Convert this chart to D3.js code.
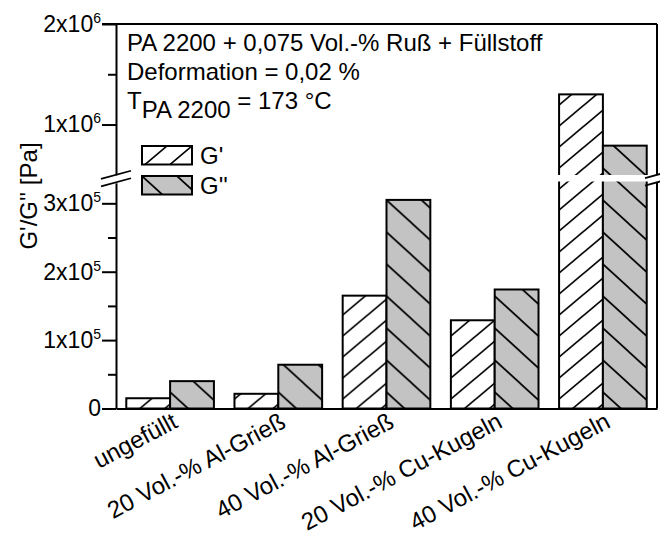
<!DOCTYPE html>
<html>
<head>
<meta charset="utf-8">
<script src="https://cdn.jsdelivr.net/npm/d3@7"></script>
<style>
  body { margin: 0; background: #fff; }
  svg { display: block; }
  text { font-family: "Liberation Sans", Arial, sans-serif; fill: #000; }
</style>
</head>
<body>
<div id="chart"></div>
<script>
// Data
const categories = ["ungefüllt", "20 Vol.-% Al-Grieß", "40 Vol.-% Al-Grieß", "20 Vol.-% Cu-Kugeln", "40 Vol.-% Cu-Kugeln"];
const seriesNames = ["G'", "G''"];
const gStorage = [1.5e4, 2.15e4, 1.65e5, 1.29e5, 1.3e6];
const gLoss = [4.0e4, 6.4e4, 3.05e5, 1.74e5, 7.9e5];

// broken y axis: lower and upper segment
const lowTicks = [0, 1e5, 2e5, 3e5];
const lowTickLabels = ["0", "1x10^5", "2x10^5", "3x10^5"];
const lowMinor = [0.5e5, 1.5e5, 2.5e5];
const highTicks = [1e6, 2e6];
const highTickLabels = ["1x10^6", "2x10^6"];
const highMinor = [1.5e6];

const annotation = ["PA 2200 + 0,075 Vol.-% Ruß + Füllstoff", "Deformation = 0,02 %"];

const width = 660, height = 539;
const plotLeft = 116, plotRight = 657, plotBottom = 408.5, plotTop = 24;

const svg = d3.select("#chart").append("svg")
    .attr("width", width)
    .attr("height", height);

// hatch patterns
const defs = svg.append("defs");
function hatch(id, w, h, fill, dir) {
    const p = defs.append("pattern")
        .attr("id", id)
        .attr("patternUnits", "userSpaceOnUse")
        .attr("width", w).attr("height", h);
    p.append("rect").attr("width", w).attr("height", h).attr("fill", fill);
    let d;
    if (dir === "up") {
        d = `M0,${h}L${w},0 M${-w/4},${h/4}L${w/4},${-h/4} M${3*w/4},${5*h/4}L${5*w/4},${3*h/4}`;
    } else {
        d = `M0,0L${w},${h} M${-w/4},${3*h/4}L${w/4},${5*h/4} M${3*w/4},${-h/4}L${5*w/4},${h/4}`;
    }
    p.append("path").attr("d", d).attr("stroke", "#000").attr("stroke-width", 1.7).attr("fill", "none");
}
hatch("hatchG1", 25, 21, "#fff", "up");
hatch("hatchG2", 35, 32, "#c3c3c3", "down");
const fills = ["url(#hatchG1)", "url(#hatchG2)"];

// scales
const x = d3.scaleBand()
    .domain(categories)
    .range([plotLeft, plotRight])
    .paddingInner(0.19)
    .paddingOuter(0.095);
const xs = d3.scaleBand()
    .domain(seriesNames)
    .range([0, x.bandwidth()]);

const yLow = d3.scaleLinear().domain([0, 3.3e5]).range([plotBottom, 182.8]);
const yHigh = d3.scaleLinear().domain([0.5e6, 2e6]).range([174.8, plotTop]);
const y = v => v <= 3.3e5 ? yLow(v) : yHigh(v);

// bars
const rows = categories.map((c, i) => ({cat: c, vals: [gStorage[i], gLoss[i]]}));
const groups = svg.selectAll(".grp")
    .data(rows)
    .enter()
    .append("g")
    .attr("class", "grp")
    .attr("transform", d => `translate(${x(d.cat)},0)`);

groups.selectAll("rect")
    .data(d => d.vals.map((v, j) => ({name: seriesNames[j], value: v, j: j})))
    .enter()
    .append("rect")
    .attr("x", d => xs(d.name))
    .attr("y", d => y(d.value))
    .attr("width", xs.bandwidth())
    .attr("height", d => plotBottom - y(d.value))
    .attr("fill", d => fills[d.j])
    .attr("stroke", "#000")
    .attr("stroke-width", 2);

// white band where the axis is broken
svg.append("rect")
    .attr("x", x(categories[4]) - 6)
    .attr("y", 175)
    .attr("width", plotRight - x(categories[4]) + 6)
    .attr("height", 6.5)
    .attr("fill", "#fff");

// y axes
function styleTicks(g) {
    g.selectAll("line").attr("stroke", "#000").attr("stroke-width", 2);
    g.select(".domain").attr("stroke", "#000").attr("stroke-width", 2);
}
function sciLabels(g, labels) {
    g.selectAll(".tick text").each(function(d, i) {
        const t = d3.select(this).text("");
        const parts = labels[i].split("^");
        t.append("tspan").text(parts[0]);
        if (parts[1]) {
            t.append("tspan").attr("dy", -9).attr("font-size", 14).text(parts[1]);
        }
    });
}

const axLow = svg.append("g")
    .attr("transform", `translate(${plotLeft},0)`)
    .call(d3.axisLeft(yLow).tickValues(lowTicks).tickSize(14).tickSizeOuter(0).tickPadding(1));
axLow.attr("font-size", 23).attr("font-family", null);
sciLabels(axLow, lowTickLabels);
styleTicks(axLow);

const axHigh = svg.append("g")
    .attr("transform", `translate(${plotLeft},0)`)
    .call(d3.axisLeft(yHigh).tickValues(highTicks).tickSize(14).tickSizeOuter(0).tickPadding(1));
axHigh.attr("font-size", 23).attr("font-family", null);
sciLabels(axHigh, highTickLabels);
styleTicks(axHigh);

// minor ticks
[[yLow, lowMinor], [yHigh, highMinor]].forEach(([sc, vals]) => {
    const g = svg.append("g")
        .attr("transform", `translate(${plotLeft},0)`)
        .call(d3.axisLeft(sc).tickValues(vals).tickSize(8).tickFormat(""));
    g.select(".domain").remove();
    styleTicks(g);
});

// x axis
const axX = svg.append("g")
    .attr("transform", `translate(0,${plotBottom})`)
    .call(d3.axisBottom(x).tickSize(0).tickSizeOuter(0).tickFormat(""));
styleTicks(axX);

svg.selectAll(".xlab")
    .data(categories)
    .enter()
    .append("text")
    .attr("class", "xlab")
    .attr("text-anchor", "end")
    .attr("font-size", 24)
    .attr("transform", d => `translate(${x(d) + x.bandwidth() / 2 + 9},${plotBottom + 18}) rotate(-28)`)
    .text(d => d);

// frame: top and right
svg.append("line")
    .attr("x1", plotLeft - 14).attr("x2", plotRight)
    .attr("y1", plotTop).attr("y2", plotTop)
    .attr("stroke", "#000").attr("stroke-width", 2);
svg.append("line")
    .attr("x1", plotRight).attr("x2", plotRight)
    .attr("y1", plotTop).attr("y2", 174.8)
    .attr("stroke", "#000").attr("stroke-width", 2);
svg.append("line")
    .attr("x1", plotRight).attr("x2", plotRight)
    .attr("y1", 182.8).attr("y2", plotBottom)
    .attr("stroke", "#000").attr("stroke-width", 2);

// break marks
function breakMarks(cx, half) {
    [174.8, 182.3].forEach(yc => {
        svg.append("line")
            .attr("x1", cx - half).attr("y1", yc + half * 0.27)
            .attr("x2", cx + half).attr("y2", yc - half * 0.27)
            .attr("stroke", "#000").attr("stroke-width", 1.8);
    });
}
breakMarks(plotLeft, 15);
breakMarks(plotRight, 12);

// y label
svg.append("text")
    .attr("transform", "translate(37,196) rotate(-90)")
    .attr("text-anchor", "middle")
    .attr("font-size", 24)
    .text("G'/G'' [Pa]");

// annotation
svg.selectAll(".ann")
    .data(annotation)
    .enter()
    .append("text")
    .attr("class", "ann")
    .attr("x", 127)
    .attr("y", (d, i) => 51 + i * 28.5)
    .attr("font-size", 24)
    .text(d => d);
const tl = svg.append("text").attr("x", 127).attr("y", 109).attr("font-size", 24);
tl.append("tspan").text("T");
tl.append("tspan").attr("dy", 9).text("PA 2200");
tl.append("tspan").attr("dy", -9).text(" = 173 °C");

// legend
const legend = svg.selectAll(".leg")
    .data(seriesNames)
    .enter()
    .append("g")
    .attr("class", "leg")
    .attr("transform", (d, i) => `translate(142,${146 + i * 30})`);
legend.append("rect")
    .attr("width", 50).attr("height", 18.5)
    .attr("fill", (d, i) => fills[i])
    .attr("stroke", "#000").attr("stroke-width", 2);
legend.append("text")
    .attr("x", 58).attr("y", 18)
    .attr("font-size", 24)
    .text(d => d);
</script>
</body>
</html>
